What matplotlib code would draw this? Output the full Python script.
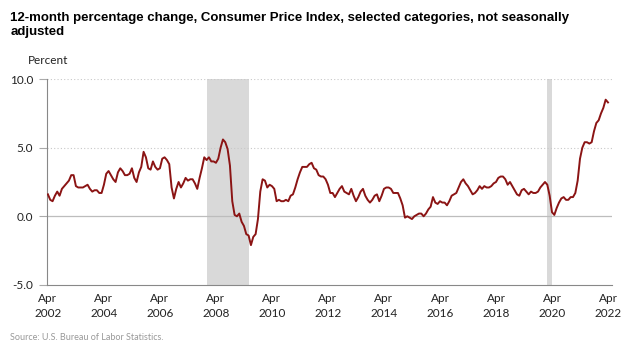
import numpy as np
import matplotlib.pyplot as plt

# CPI-U all items, 12-month percent change, Apr 2002 - Apr 2022 (monthly)
cpi_2002 = [1.6, 1.2, 1.1, 1.5, 1.8, 1.5, 2.0, 2.2, 2.4]
cpi_2003 = [2.6, 3.0, 3.0, 2.2, 2.1, 2.1, 2.1, 2.2, 2.3, 2.0, 1.8, 1.9]
cpi_2004 = [1.9, 1.7, 1.7, 2.3, 3.1, 3.3, 3.0, 2.7, 2.5, 3.2, 3.5, 3.3]
cpi_2005 = [3.0, 3.0, 3.1, 3.5, 2.8, 2.5, 3.2, 3.6, 4.7, 4.3, 3.5, 3.4]
cpi_2006 = [4.0, 3.6, 3.4, 3.5, 4.2, 4.3, 4.1, 3.8, 2.1, 1.3, 2.0, 2.5]
cpi_2007 = [2.1, 2.4, 2.8, 2.6, 2.7, 2.7, 2.4, 2.0, 2.8, 3.5, 4.3, 4.1]
cpi_2008 = [4.3, 4.0, 4.0, 3.9, 4.2, 5.0, 5.6, 5.4, 4.9, 3.7, 1.1, 0.1]
cpi_2009 = [0.0, 0.2, -0.4, -0.7, -1.3, -1.4, -2.1, -1.5, -1.3, -0.2, 1.8, 2.7]
cpi_2010 = [2.6, 2.1, 2.3, 2.2, 2.0, 1.1, 1.2, 1.1, 1.1, 1.2, 1.1, 1.5]
cpi_2011 = [1.6, 2.1, 2.7, 3.2, 3.6, 3.6, 3.6, 3.8, 3.9, 3.5, 3.4, 3.0]
cpi_2012 = [2.9, 2.9, 2.7, 2.3, 1.7, 1.7, 1.4, 1.7, 2.0, 2.2, 1.8, 1.7]
cpi_2013 = [1.6, 2.0, 1.5, 1.1, 1.4, 1.8, 2.0, 1.5, 1.2, 1.0, 1.2, 1.5]
cpi_2014 = [1.6, 1.1, 1.5, 2.0, 2.1, 2.1, 2.0, 1.7, 1.7, 1.7, 1.3, 0.8]
cpi_2015 = [-0.1, 0.0, -0.1, -0.2, 0.0, 0.1, 0.2, 0.2, 0.0, 0.2, 0.5, 0.7]
cpi_2016 = [1.4, 1.0, 0.9, 1.1, 1.0, 1.0, 0.8, 1.1, 1.5, 1.6, 1.7, 2.1]
cpi_2017 = [2.5, 2.7, 2.4, 2.2, 1.9, 1.6, 1.7, 1.9, 2.2, 2.0, 2.2, 2.1]
cpi_2018 = [2.1, 2.2, 2.4, 2.5, 2.8, 2.9, 2.9, 2.7, 2.3, 2.5, 2.2, 1.9]
cpi_2019 = [1.6, 1.5, 1.9, 2.0, 1.8, 1.6, 1.8, 1.7, 1.7, 1.8, 2.1, 2.3]
cpi_2020 = [2.5, 2.3, 1.5, 0.3, 0.1, 0.6, 1.0, 1.3, 1.4, 1.2, 1.2, 1.4]
cpi_2021 = [1.4, 1.7, 2.6, 4.2, 5.0, 5.4, 5.4, 5.3, 5.4, 6.2, 6.8, 7.0]
cpi_2022 = [7.5, 7.9, 8.5, 8.3]

cpi = (cpi_2002 + cpi_2003 + cpi_2004 + cpi_2005 + cpi_2006 + cpi_2007 +
       cpi_2008 + cpi_2009 + cpi_2010 + cpi_2011 + cpi_2012 + cpi_2013 +
       cpi_2014 + cpi_2015 + cpi_2016 + cpi_2017 + cpi_2018 + cpi_2019 +
       cpi_2020 + cpi_2021 + cpi_2022)

tick_years = list(range(2002, 2023, 2))
tick_labels = ['Apr\n%d' % y for y in tick_years]

# recessions as (start year, month), (end year, month)
recessions = [((2007, 12), (2009, 6)), ((2020, 2), (2020, 4))]

def month_index(y, m):
    return (y - 2002) * 12 + (m - 4)

x = np.arange(len(cpi))
sans = ['Lato', 'DejaVu Sans']

plt.rcParams['font.family'] = ['Liberation Sans', 'DejaVu Sans']
fig = plt.figure(figsize=(6.4, 3.5), dpi=100)
ax = fig.add_axes([0.0734, 0.186, 0.8828, 0.588])

for (s, e) in recessions:
    ax.axvspan(month_index(*s), month_index(*e), color='#d9d9d9', lw=0, zorder=0)

for yv in [5, 10]:
    ax.axhline(yv, color='#c8c8c8', lw=0.8, ls=(0, (1, 2)), zorder=1)
ax.axhline(0, color='#bdbdbd', lw=0.9, zorder=1)

ax.plot(x, cpi, color='#8b1414', lw=1.4, zorder=3)

ax.set_xlim(-0.4, 241.7)
ax.set_ylim(-5, 10)
ax.set_yticks([-5, 0, 5, 10])
ax.set_yticklabels(['-5.0', '0.0', '5.0', '10.0'], fontfamily=sans)
ax.set_xticks([month_index(y, 4) for y in tick_years])
ax.set_xticklabels(tick_labels, fontfamily=sans, linespacing=1.45)
ax.tick_params(axis='both', labelsize=8.5, labelcolor='#222222')
ax.tick_params(axis='x', length=0, pad=6)
ax.tick_params(axis='y', color='#aaaaaa', length=6, width=0.8, pad=4)

for side in ['top', 'right']:
    ax.spines[side].set_visible(False)
for side in ['left', 'bottom']:
    ax.spines[side].set_color('#888888')
    ax.spines[side].set_linewidth(0.8)

fig.text(0.016, 0.965, '12-month percentage change, Consumer Price Index, selected categories, not seasonally\nadjusted',
         fontsize=9.5, fontweight='bold', va='top', ha='left', linespacing=1.15)
fig.text(0.044, 0.81, 'Percent', fontsize=8.5, ha='left', va='bottom',
         fontfamily=sans, color='#222222')
fig.text(0.016, 0.022, 'Source: U.S. Bureau of Labor Statistics.', fontsize=6.5,
         color='#999999', ha='left', va='bottom', fontfamily=sans)

plt.savefig('out.png', dpi=100)
